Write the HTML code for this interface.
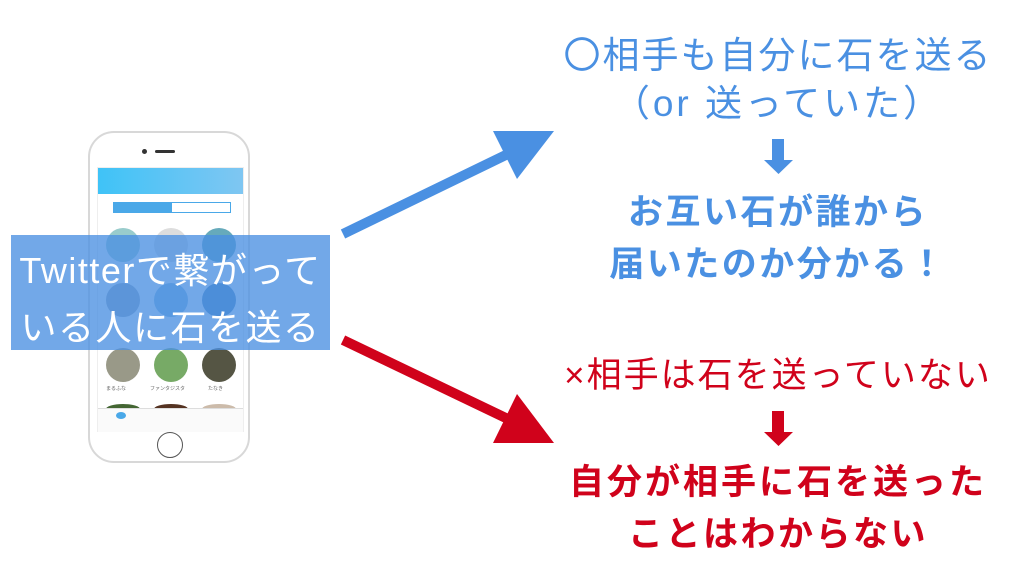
<!DOCTYPE html>
<html><head><meta charset="utf-8">
<style>
html,body{margin:0;padding:0;}
body{width:1024px;height:576px;position:relative;overflow:hidden;background:#fff;font-family:"Liberation Sans","Noto Sans CJK JP",sans-serif;}
.t{position:absolute;left:540px;width:476px;text-align:center;white-space:nowrap;line-height:40px;}
.b{color:#4a90e2}.r{color:#d0021b}
.bold{font-weight:bold;font-size:35px;letter-spacing:2.5px}
.reg{font-size:37px;letter-spacing:3px}
.phone{position:absolute;left:88px;top:131px;width:162px;height:332px;border:2px solid #d8d8d8;border-radius:26px;background:#fff;box-sizing:border-box;}
.screen{position:absolute;left:97px;top:167px;width:145px;height:263px;background:#fff;border:1px solid #eee;}
.circ{position:absolute;width:34px;height:34px;border-radius:50%;}
</style></head><body>
<div class="phone"></div>
<div style="position:absolute;left:155px;top:150px;width:20px;height:3px;background:#333;border-radius:2px"></div>
<div style="position:absolute;left:142px;top:149px;width:5px;height:5px;background:#333;border-radius:50%"></div>
<div style="position:absolute;left:157px;top:432px;width:24px;height:24px;border:1px solid #555;border-radius:50%"></div>
<div class="screen">
 <div style="position:absolute;left:0;top:0;width:145px;height:26px;background:linear-gradient(90deg,#3fc3f7,#7fc6f2)"></div>
 <div style="position:absolute;left:15px;top:34px;width:58px;height:11px;background:#4aa8e8"></div>
 <div style="position:absolute;left:73px;top:34px;width:58px;height:9px;border:1px solid #4aa8e8"></div>
 <div class="circ" style="left:8px;top:60px;background:#9cc"></div>
 <div class="circ" style="left:56px;top:60px;background:#ddd"></div>
 <div class="circ" style="left:104px;top:60px;background:#6ab"></div>
 <div class="circ" style="left:8px;top:115px;background:#9ab"></div>
 <div class="circ" style="left:56px;top:115px;background:#8bd"></div>
 <div class="circ" style="left:104px;top:115px;background:#58b"></div>
 <div class="circ" style="left:8px;top:180px;background:#998"></div>
 <div class="circ" style="left:56px;top:180px;background:#7a6"></div>
 <div class="circ" style="left:104px;top:180px;background:#554"></div>
 <div style="position:absolute;left:8px;top:217px;font-size:5px;color:#666">まるふな</div>
 <div style="position:absolute;left:52px;top:217px;font-size:5px;color:#666">ファンタジスタ</div>
 <div style="position:absolute;left:110px;top:217px;font-size:5px;color:#666">たなき</div>
 <div class="circ" style="left:8px;top:236px;height:10px;background:#463"></div>
 <div class="circ" style="left:56px;top:236px;height:10px;background:#532"></div>
 <div class="circ" style="left:104px;top:236px;height:10px;background:#cba"></div>
 <div style="position:absolute;left:0;top:240px;width:145px;height:23px;background:#fafafa;border-top:1px solid #ddd"></div>
 <div style="position:absolute;left:18px;top:244px;width:10px;height:7px;background:#4aa8e8;border-radius:50%"></div>
</div>
<div style="position:absolute;left:11px;top:235px;width:319px;height:115px;background:rgba(74,144,226,0.78)"></div>
<div style="position:absolute;left:6px;top:242px;width:329px;text-align:center;color:#fff;font-size:36px;letter-spacing:1.5px;line-height:57px;white-space:nowrap">Twitterで繋がって<br>いる人に石を送る</div>
<svg style="position:absolute;left:0;top:0" width="1024" height="576">
 <line x1="343" y1="234" x2="510" y2="153" stroke="#4a90e2" stroke-width="10"/>
 <polygon points="493,131 554,131 517,179" fill="#4a90e2"/>
 <line x1="343" y1="340" x2="510" y2="420" stroke="#d0021b" stroke-width="10"/>
 <polygon points="517,394 554,443 493,443" fill="#d0021b"/>
 <polygon points="772,139 784,139 784,160 793,160 778.5,174 764,160 772,160" fill="#4a90e2"/>
 <polygon points="772,411 784,411 784,432 793,432 778.5,446 764,432 772,432" fill="#d0021b"/>
</svg>
<div class="t b reg" style="top:32px;letter-spacing:2px"><span style="font-family:'Noto Sans CJK JP',sans-serif">〇</span>相手も自分に石を送る</div>
<div class="t b reg" style="top:84px">（or 送っていた）</div>
<div class="t b bold" style="top:193px">お互い石が誰から</div>
<div class="t b bold" style="top:245px">届いたのか分かる！</div>
<div class="t r" style="top:356px;font-size:35px;letter-spacing:2px">×相手は石を送っていない</div>
<div class="t r bold" style="top:463px;letter-spacing:3px">自分が相手に石を送った</div>
<div class="t r bold" style="top:515px">ことはわからない</div>
</body></html>
